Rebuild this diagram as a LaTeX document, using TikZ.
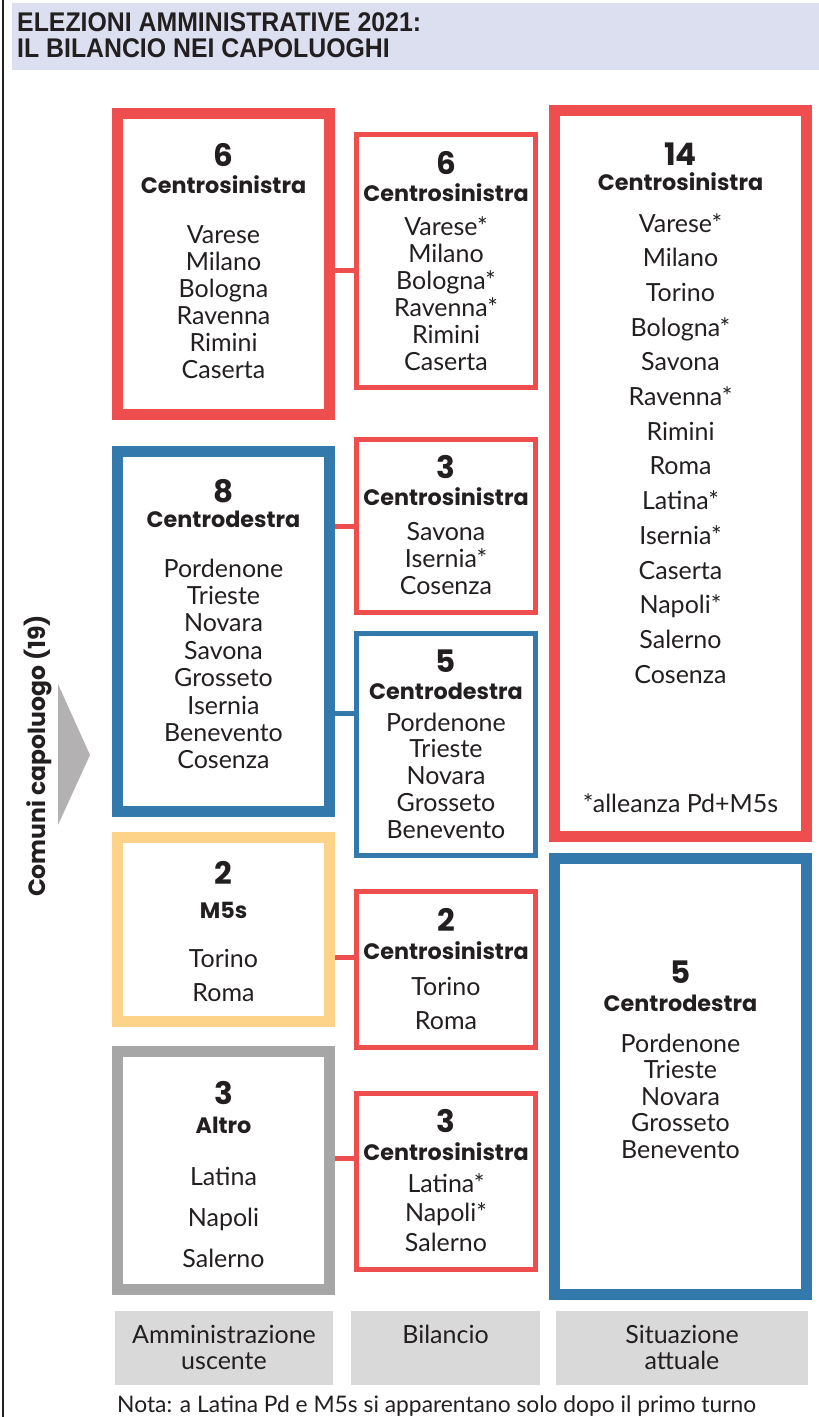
\documentclass[tikz,border=0pt]{standalone}
\usepackage{fontspec}
\setmainfont{Lato}
\newfontfamily\hfont{Poppins}
\newfontfamily\tfont{Liberation Sans}[FakeStretch=0.92]
\definecolor{cred}{HTML}{EF4E4E}
\definecolor{cblue}{HTML}{3379AC}
\definecolor{cyel}{HTML}{FDD38A}
\definecolor{cgray}{HTML}{A6A6A6}
\definecolor{clab}{HTML}{D9D9D9}
\definecolor{chead}{HTML}{DCDFEF}
\definecolor{ctri}{HTML}{B3B1B1}
\definecolor{ink}{HTML}{231F20}
\tikzset{
  txt/.style={text=ink, inner sep=0pt, anchor=base},
  city/.style={txt, font=\fontsize{25}{28}\selectfont},
  head/.style={txt, font=\hfont\bfseries\fontsize{22.3}{26}\selectfont},
  num/.style={txt, font=\hfont\bfseries\fontsize{31}{35}\selectfont},
  bigbox/.style={draw, line width=11pt, inner sep=0pt},
  smallbox/.style={draw, line width=5pt, inner sep=0pt},
  labbox/.style={fill=clab, inner sep=0pt},
  conn/.style={line width=5pt},
}
\newcommand\citylist[5]{%
  \foreach \t [count=\i] in {#5} {\node[city] (#1\i) at (#2,#3+9+\i*#4-#4) {\t};}}
\begin{document}
\begin{tikzpicture}[x=1pt,y=-1pt]
\useasboundingbox (0,0) rectangle (819,1417);
% left rule and header
\draw[ink, line width=2pt] (3,0) -- (3,1417);
\fill[chead] (12,3) rectangle (819,70);
\node[txt, anchor=base west, font=\tfont\bfseries\fontsize{27}{28}\selectfont] (t1) at (17,31) {ELEZIONI AMMINISTRATIVE 2021:};
\node[txt, anchor=base west, font=\tfont\bfseries\fontsize{27}{28}\selectfont] (t2) at (17,57.5) {IL BILANCIO NEI CAPOLUOGHI};
% side label
\fill[ctri] (58,684) -- (90,755) -- (58,825) -- cycle;
\node[text=ink, inner sep=0pt, rotate=90, font=\hfont\bfseries\fontsize{23.5}{27}\selectfont] (side) at (38,756) {Comuni capoluogo (19)};
% column 1
\node[bigbox, draw=cred, minimum width=212pt, minimum height=301pt] (A1) at (223.5,264) {};
\node[bigbox, draw=cblue, minimum width=212pt, minimum height=360pt] (A2) at (223.5,631.5) {};
\node[bigbox, draw=cyel, minimum width=212pt, minimum height=184pt] (A3) at (223.5,929.5) {};
\node[bigbox, draw=cgray, minimum width=212pt, minimum height=238pt] (A4) at (223.5,1170.5) {};
% column 2
\node[smallbox, draw=cred, minimum width=179pt, minimum height=253pt] (B1) at (446,261) {};
\node[smallbox, draw=cred, minimum width=179pt, minimum height=173pt] (B2) at (446,526) {};
\node[smallbox, draw=cblue, minimum width=179pt, minimum height=222pt] (B3) at (446,744.5) {};
\node[smallbox, draw=cred, minimum width=179pt, minimum height=156pt] (B4) at (446,969.5) {};
\node[smallbox, draw=cred, minimum width=179pt, minimum height=176pt] (B5) at (446,1181.5) {};
% column 3
\node[bigbox, draw=cred, minimum width=252pt, minimum height=726pt] (C1) at (680.5,473.5) {};
\node[bigbox, draw=cblue, minimum width=252pt, minimum height=436pt] (C2) at (680.5,1076.5) {};
% connectors
\coordinate (y1) at (0,270);
\coordinate (y2) at (0,526);
\coordinate (y3) at (0,713);
\coordinate (y4) at (0,957);
\coordinate (y5) at (0,1158);
\draw[conn, cred] (A1.east |- y1) -- (B1.west |- y1);
\draw[conn, cred] (A2.east |- y2) -- (B2.west |- y2);
\draw[conn, cblue] (A2.east |- y3) -- (B3.west |- y3);
\draw[conn, cred] (A3.east |- y4) -- (B4.west |- y4);
\draw[conn, cred] (A4.east |- y5) -- (B5.west |- y5);
% texts column 1
\node[num] (A1n) at (223.5,166) {6};
\node[head] (A1h) at (223.5,193) {Centrosinistra};
\citylist{A1c}{223.5}{234}{27}{Varese,Milano,Bologna,Ravenna,Rimini,Caserta}
\node[num] (A2n) at (223.5,502) {8};
\node[head] (A2h) at (223.5,527) {Centrodestra};
\citylist{A2c}{223.5}{568}{27.4}{Pordenone,Trieste,Novara,Savona,Grosseto,Isernia,Benevento,Cosenza}
\node[num] (A3n) at (223.5,884) {2};
\node[head] (A3h) at (223.5,918) {M5s};
\citylist{A3c}{223.5}{958}{34}{Torino,Roma}
\node[num] (A4n) at (223.5,1104) {3};
\node[head] (A4h) at (223.5,1133) {Altro};
\citylist{A4c}{223.5}{1176}{41}{Latina,Napoli,Salerno}
% texts column 2
\node[num] (B1n) at (446,174) {6};
\node[head] (B1h) at (446,201) {Centrosinistra};
\citylist{B1c}{446}{226}{27}{Varese*,Milano,Bologna*,Ravenna*,Rimini,Caserta}
\node[num] (B2n) at (446,478) {3};
\node[head] (B2h) at (446,505) {Centrosinistra};
\citylist{B2c}{446}{531}{27}{Savona,Isernia*,Cosenza}
\node[num] (B3n) at (446,672) {5};
\node[head] (B3h) at (446,699) {Centrodestra};
\citylist{B3c}{446}{722}{26.9}{Pordenone,Trieste,Novara,Grosseto,Benevento}
\node[num] (B4n) at (446,931) {2};
\node[head] (B4h) at (446,959) {Centrosinistra};
\citylist{B4c}{446}{986}{34}{Torino,Roma}
\node[num] (B5n) at (446,1132) {3};
\node[head] (B5h) at (446,1160) {Centrosinistra};
\citylist{B5c}{446}{1183}{29.5}{Latina*,Napoli*,Salerno}
% texts column 3
\node[num] (C1n) at (680.5,165) {14};
\node[head] (C1h) at (680.5,190) {Centrosinistra};
\citylist{C1c}{680.5}{223}{34.7}{Varese*,Milano,Torino,Bologna*,Savona,Ravenna*,Rimini,Roma,Latina*,Isernia*,Caserta,Napoli*,Salerno,Cosenza}
\node[city] (C1note) at (680.5,812) {*alleanza Pd+M5s};
\node[num] (C2n) at (680.5,983) {5};
\node[head] (C2h) at (680.5,1011) {Centrodestra};
\citylist{C2c}{680.5}{1043}{26.5}{Pordenone,Trieste,Novara,Grosseto,Benevento}
% bottom labels
\node[labbox, minimum width=218pt, minimum height=74pt] (L1) at (224,1348) {};
\node[labbox, minimum width=189pt, minimum height=74pt] (L2) at (445.5,1348) {};
\node[labbox, minimum width=252pt, minimum height=74pt] (L3) at (682,1348) {};
\node[city] (L1a) at (L1 |- 0,1343) {Amministrazione};
\node[city] (L1b) at (L1 |- 0,1369) {uscente};
\node[city] (L2a) at (L2 |- 0,1343) {Bilancio};
\node[city] (L3a) at (L3 |- 0,1343) {Situazione};
\node[city] (L3b) at (L3 |- 0,1369) {attuale};
\node[txt, anchor=base west, font=\fontsize{22.8}{26}\selectfont] (note) at (117,1412) {Nota: a Latina Pd e M5s si apparentano solo dopo il primo turno};
\end{tikzpicture}
\end{document}
